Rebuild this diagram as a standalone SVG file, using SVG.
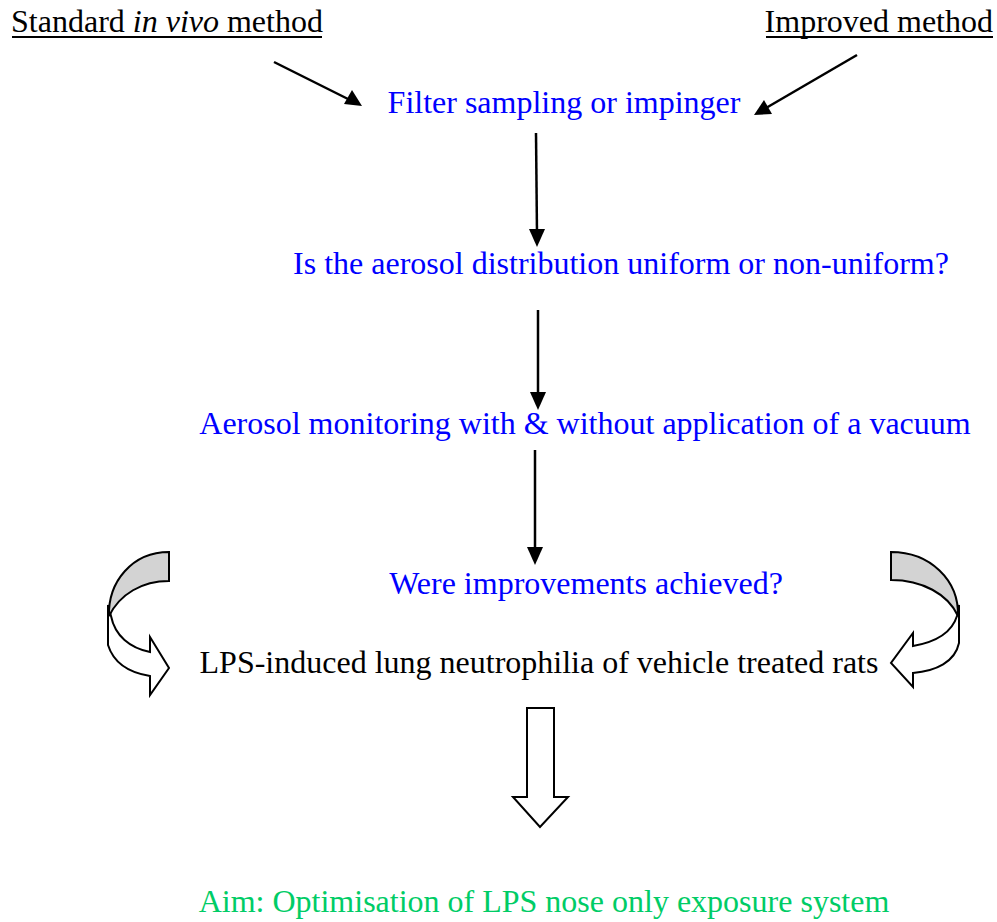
<svg xmlns="http://www.w3.org/2000/svg" width="997" height="922" viewBox="0 0 997 922">
<style>
.b{fill:#0000FF}
.k{fill:#000}
.g{fill:#00CC66}
.ln{stroke:#000;stroke-width:2.5;fill:none}
.ul{stroke:#000;stroke-width:2}
.hd{fill:#000}
.sh{stroke:#000;stroke-width:2;stroke-linejoin:miter}
</style>
<g id="n-standard"><text x="167" y="32" font-family="Liberation Serif" font-size="32" text-anchor="middle" class="k">Standard <tspan font-style="italic">in vivo</tspan> method</text><line class="ul" x1="12" y1="37" x2="322" y2="37"/></g>
<g id="n-improved"><text x="993" y="32" font-family="Liberation Serif" font-size="32" text-anchor="end" class="k">Improved method</text><line class="ul" x1="766" y1="37" x2="993" y2="37"/></g>
<g id="n-filter"><text x="564" y="113" font-family="Liberation Serif" font-size="32" text-anchor="middle" class="b">Filter sampling or impinger</text></g>
<g id="n-uniform"><text x="621" y="274" font-family="Liberation Serif" font-size="32" text-anchor="middle" class="b">Is the aerosol distribution uniform or non-uniform?</text></g>
<g id="n-monitor"><text x="585" y="434" font-family="Liberation Serif" font-size="32" text-anchor="middle" class="b">Aerosol monitoring with &amp; without application of a vacuum</text></g>
<g id="n-improve"><text x="586" y="594" font-family="Liberation Serif" font-size="32" text-anchor="middle" class="b">Were improvements achieved?</text></g>
<g id="n-lps"><text x="539" y="673" font-family="Liberation Serif" font-size="32" text-anchor="middle" class="k">LPS-induced lung neutrophilia of vehicle treated rats</text></g>
<g id="n-aim"><text x="544" y="912" font-family="Liberation Serif" font-size="32" text-anchor="middle" class="g">Aim: Optimisation of LPS nose only exposure system</text></g>
<g id="connectors">
<line class="ln" x1="274" y1="62" x2="350" y2="100"/>
<path class="hd" d="M362,106 L344,104 L352,90 Z"/>
<line class="ln" x1="857" y1="55" x2="766" y2="108"/>
<path class="hd" d="M754,115 L764,100 L772,114 Z"/>
<line class="ln" x1="536" y1="133" x2="537" y2="235"/>
<path class="hd" d="M537,247 L529,229 L545,229 Z"/>
<line class="ln" x1="538" y1="310" x2="538" y2="398"/>
<path class="hd" d="M538,410 L530,392 L546,392 Z"/>
<line class="ln" x1="535" y1="450" x2="535" y2="553"/>
<path class="hd" d="M535,565 L527,547 L543,547 Z"/>
<path class="sh" fill="#fff" d="M108,605 L108,645 C114,664 131,673 150,676 L150,695 L169,668 L150,637 L150,652 C130,648 115,636 111,616 Z"/>
<path class="sh" fill="#D3D3D3" d="M169,552 C132,552 108,582 109,616 C120,594 142,581 169,581 Z"/>
<path class="sh" fill="#fff" d="M959,605 L959,643 C955,662 936,671 913,673 L913,687 L891,663 L913,633 L913,646 C936,642 952,632 957,616 Z"/>
<path class="sh" fill="#D3D3D3" d="M891,552 C930,552 959,580 958,616 C948,594 922,580 891,580 Z"/>
<path class="sh" fill="#fff" d="M527,708 L554,708 L554,797 L568,797 L540,827 L513,797 L527,797 Z"/>
</g>
</svg>
